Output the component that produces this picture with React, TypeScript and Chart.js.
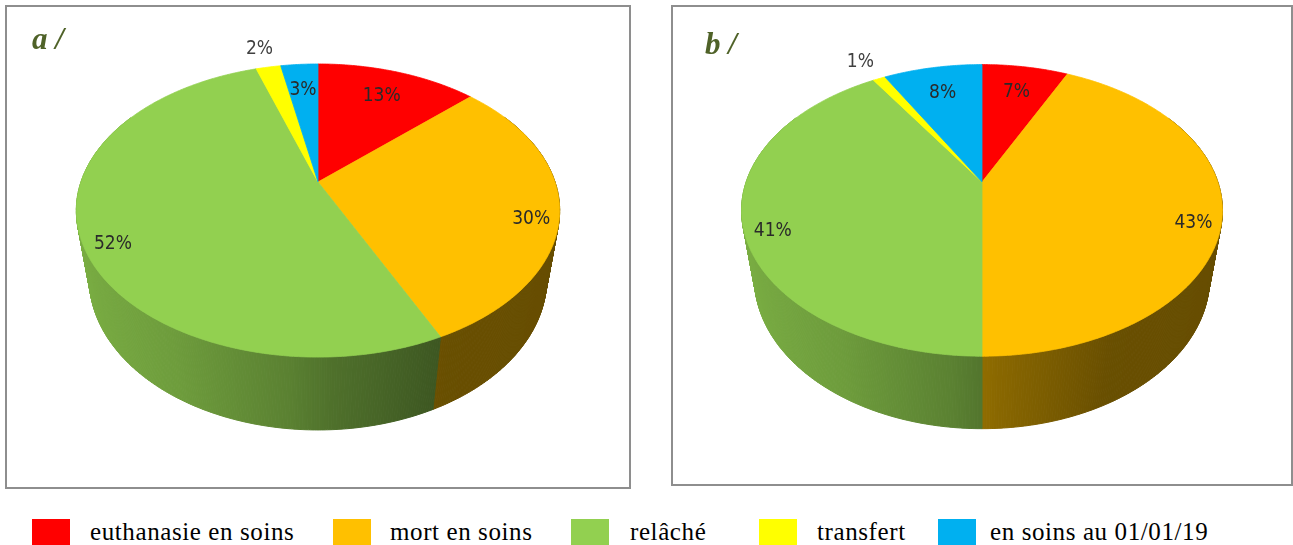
import React, { useEffect, useRef } from "react";
import { Chart, registerables } from "chart.js";

Chart.register(...registerables);

// ---- data ----
const categories = ["euthanasie en soins", "mort en soins", "relâché", "transfert", "en soins au 01/01/19"];
const seriesA = [13, 30, 52, 2, 3];
const seriesB = [7, 43, 41, 1, 8];
const panelTitles = ["a /", "b /"];
const sliceColors = ["#ff0000", "#ffc000", "#92d050", "#ffff00", "#00b0f0"];

// ---- helpers ----
function hexToRgb(hex: string) {
  const h = hex.replace("#", "");
  return [parseInt(h.slice(0, 2), 16), parseInt(h.slice(2, 4), 16), parseInt(h.slice(4, 6), 16)];
}
function shade(hex: string, k: number) {
  const [r, g, b] = hexToRgb(hex);
  return `rgb(${Math.round(r * k)},${Math.round(g * k)},${Math.round(b * k)})`;
}
const lightPts: [number, number][] = [
  [-1, 0.84],
  [-0.5, 0.75],
  [-0.1, 0.62],
  [0.05, 0.54],
  [0.45, 0.41],
  [1, 0.4],
];
function sideFactor(u: number) {
  for (let i = 0; i < lightPts.length - 1; i++) {
    const [u0, k0] = lightPts[i];
    const [u1, k1] = lightPts[i + 1];
    if (u <= u1) {
      const t = Math.max(0, (u - u0) / (u1 - u0));
      return k0 + (k1 - k0) * t;
    }
  }
  return lightPts[lightPts.length - 1][1];
}

const pie3dPlugin = {
  id: "pie3d",
  beforeDatasetsDraw(chart: any, _args: any, opts: any) {
    const ctx: CanvasRenderingContext2D = chart.ctx;
    const meta = chart.getDatasetMeta(0);
    const ds = chart.data.datasets[0];
    const values: number[] = ds.data;
    const colors: string[] = ds.backgroundColor;
    const { cx, cy, f, L, alpha, h } = opts;
    const sa = Math.sin(alpha);
    const ca = Math.cos(alpha);
    const proj = (u: number, v: number, z: number) => {
      const d = L - v * ca - z * sa;
      return [cx + (u * f) / d, cy + ((v * sa - z * ca) * f) / d];
    };
    const step = Math.PI / 360;

    // side walls, painter order (far to near)
    const segs: { t0: number; t1: number; i: number }[] = [];
    meta.data.forEach((arc: any, i: number) => {
      const { startAngle, endAngle } = arc.getProps(["startAngle", "endAngle"], true);
      const n = Math.max(1, Math.ceil((endAngle - startAngle) / step));
      for (let j = 0; j < n; j++) {
        segs.push({
          t0: startAngle + ((endAngle - startAngle) * j) / n,
          t1: startAngle + ((endAngle - startAngle) * (j + 1)) / n,
          i,
        });
      }
    });
    segs.sort((a, b) => Math.sin((a.t0 + a.t1) / 2) - Math.sin((b.t0 + b.t1) / 2));
    ctx.save();
    for (const s of segs) {
      const tm = (s.t0 + s.t1) / 2;
      if (Math.sin(tm) < -0.5) continue;
      const col = shade(colors[s.i], sideFactor(Math.cos(tm)));
      const p0 = proj(Math.cos(s.t0), Math.sin(s.t0), 0);
      const p1 = proj(Math.cos(s.t1), Math.sin(s.t1), 0);
      const p2 = proj(Math.cos(s.t1), Math.sin(s.t1), -h);
      const p3 = proj(Math.cos(s.t0), Math.sin(s.t0), -h);
      ctx.beginPath();
      ctx.moveTo(p0[0], p0[1]);
      ctx.lineTo(p1[0], p1[1]);
      ctx.lineTo(p2[0], p2[1]);
      ctx.lineTo(p3[0], p3[1]);
      ctx.closePath();
      ctx.fillStyle = col;
      ctx.strokeStyle = col;
      ctx.lineWidth = 1;
      ctx.fill();
      ctx.stroke();
    }

    // top faces
    meta.data.forEach((arc: any, i: number) => {
      const { startAngle, endAngle } = arc.getProps(["startAngle", "endAngle"], true);
      const n = Math.max(2, Math.ceil((endAngle - startAngle) / step));
      ctx.beginPath();
      const c = proj(0, 0, 0);
      ctx.moveTo(c[0], c[1]);
      for (let j = 0; j <= n; j++) {
        const t = startAngle + ((endAngle - startAngle) * j) / n;
        const p = proj(Math.cos(t), Math.sin(t), 0);
        ctx.lineTo(p[0], p[1]);
      }
      ctx.closePath();
      ctx.fillStyle = colors[i];
      ctx.strokeStyle = colors[i];
      ctx.lineWidth = 0.8;
      ctx.fill();
      ctx.stroke();
    });

    // labels
    const total = values.reduce((a, b) => a + b, 0);
    ctx.font = '19px "Liberation Sans Narrow", "DejaVu Sans Condensed", sans-serif';
    ctx.textAlign = "center";
    ctx.textBaseline = "alphabetic";
    const bias = (4.5 * Math.PI) / 180;
    meta.data.forEach((arc: any, i: number) => {
      const { startAngle, endAngle } = arc.getProps(["startAngle", "endAngle"], true);
      const pct = Math.round((values[i] / total) * 100);
      const r = pct <= 2 ? 1.22 : pct < 20 ? 0.77 : 0.89;
      let tm = (startAngle + endAngle) / 2;
      if (pct >= 20) tm += tm < Math.PI / 2 ? bias : -bias;
      const p = proj(r * Math.cos(tm), r * Math.sin(tm), 0);
      ctx.fillStyle = r > 1 ? "#404040" : "#2a2a2a";
      ctx.fillText(pct + "%", p[0], p[1] + 7);
    });
    ctx.restore();
    return false;
  },
};

function PieCanvas(props: { values: number[]; width: number; height: number; geom: any }) {
  const ref = useRef<HTMLCanvasElement | null>(null);
  useEffect(() => {
    if (!ref.current) return;
    const chart = new Chart(ref.current, {
      type: "pie",
      data: {
        labels: categories,
        datasets: [{ data: props.values, backgroundColor: sliceColors, borderWidth: 0 }],
      },
      options: {
        responsive: false,
        animation: false,
        events: [],
        plugins: {
          legend: { display: false },
          tooltip: { enabled: false },
          // @ts-ignore
          pie3d: props.geom,
        },
      },
      plugins: [pie3dPlugin as any],
    });
    return () => chart.destroy();
  }, []);
  return (
    <canvas
      ref={ref}
      width={props.width}
      height={props.height}
      style={{ position: "absolute", left: 0, top: 0, width: props.width, height: props.height }}
    />
  );
}

const titleStyle: React.CSSProperties = {
  position: "absolute",
  fontFamily: '"Liberation Serif", "Times New Roman", serif',
  fontWeight: "bold",
  fontStyle: "italic",
  fontSize: 31,
  lineHeight: "31px",
  color: "#4f6228",
  whiteSpace: "nowrap",
};

const legendSquares = [32, 333, 571, 759, 938];
const legendTexts = [90, 390, 630, 817, 990];

export default function App() {
  const alpha = (36.5 * Math.PI) / 180;
  return (
    <div
      style={{
        position: "fixed",
        left: 0,
        top: 0,
        width: 1293,
        height: 545,
        background: "#ffffff",
        overflow: "hidden",
      }}
    >
      <div
        style={{
          position: "absolute",
          left: 5,
          top: 5,
          width: 626,
          height: 484,
          boxSizing: "border-box",
          border: "2px solid #8e8e8e",
        }}
      >
        <PieCanvas values={seriesA} width={622} height={480} geom={{ cx: 311, cy: 175, f: 979, L: 4.13, alpha, h: 0.379 }} />
        <div style={{ ...titleStyle, left: 25, top: 16 }}>{panelTitles[0]}</div>
      </div>
      <div
        style={{
          position: "absolute",
          left: 671,
          top: 5,
          width: 622,
          height: 481,
          boxSizing: "border-box",
          border: "2px solid #8e8e8e",
        }}
      >
        <PieCanvas values={seriesB} width={618} height={477} geom={{ cx: 309, cy: 175, f: 974, L: 4.13, alpha, h: 0.379 }} />
        <div style={{ ...titleStyle, left: 32, top: 21 }}>{panelTitles[1]}</div>
      </div>
      {categories.map((c, i) => (
        <React.Fragment key={c}>
          <div
            style={{
              position: "absolute",
              left: legendSquares[i],
              top: 519,
              width: 38,
              height: 26,
              background: sliceColors[i],
            }}
          />
          <div
            style={{
              position: "absolute",
              left: legendTexts[i],
              top: 519,
              fontFamily: '"Liberation Serif", "Times New Roman", serif',
              fontSize: 25,
              lineHeight: "25px",
              letterSpacing: 0.6,
              color: "#000",
              whiteSpace: "nowrap",
            }}
          >
            {c}
          </div>
        </React.Fragment>
      ))}
    </div>
  );
}
